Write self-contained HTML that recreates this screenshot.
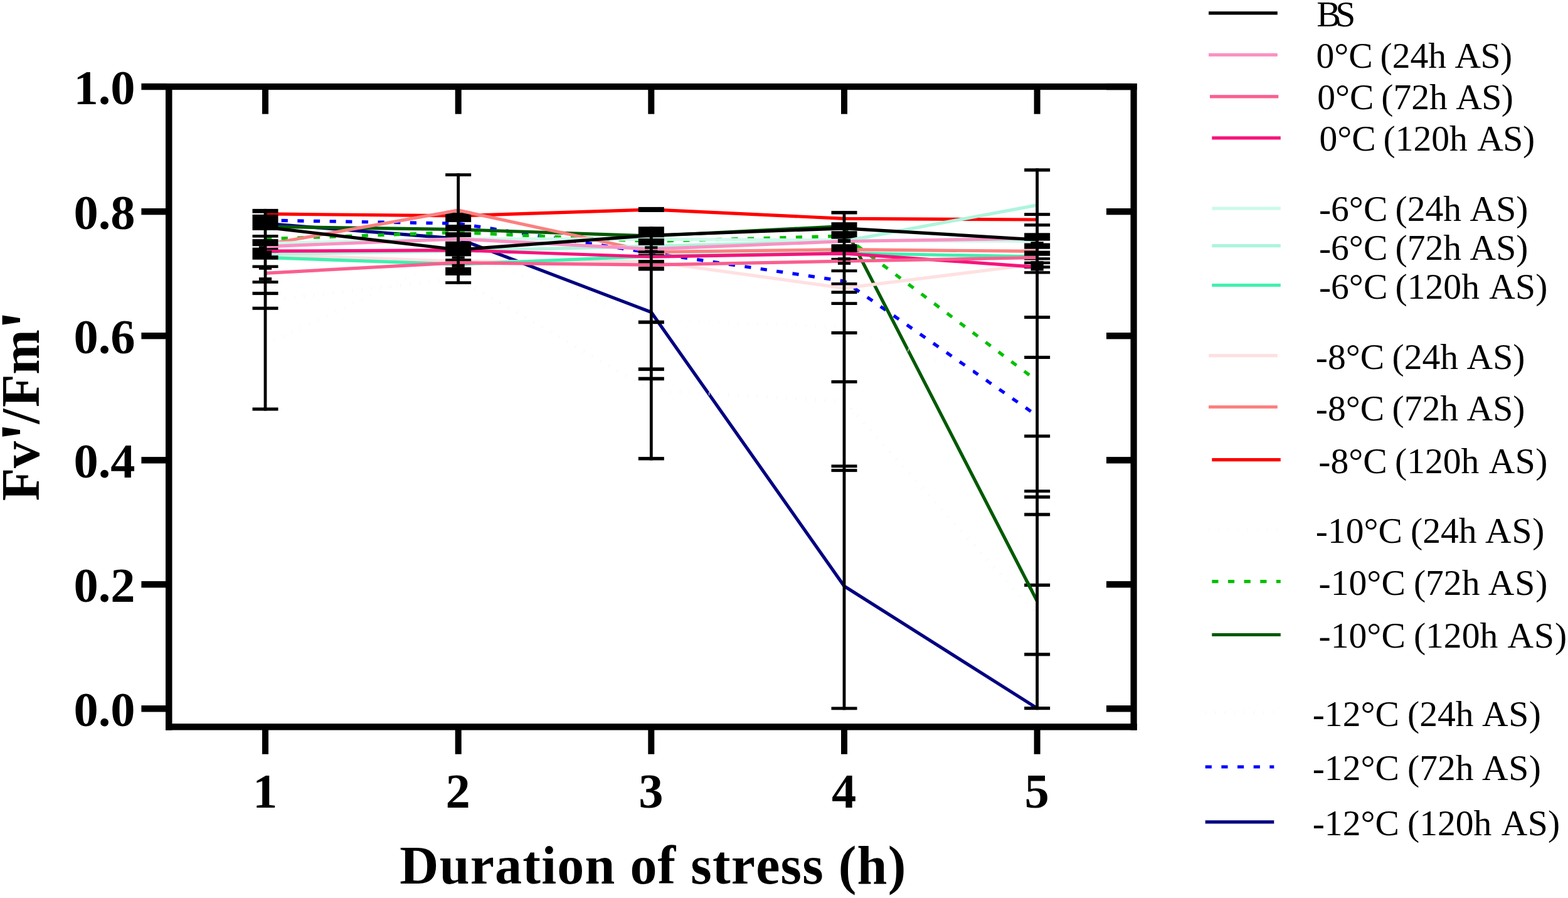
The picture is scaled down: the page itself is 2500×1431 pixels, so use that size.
<!DOCTYPE html>
<html lang="en"><head><meta charset="utf-8"><title>Fv'/Fm' vs duration of stress</title>
<style>html,body{margin:0;padding:0;background:#fff}body{width:2500px;height:1431px;overflow:hidden}svg{display:block}text{font-family:"Liberation Serif","Times New Roman",serif;fill:#000;font-kerning:none}.b{font-weight:bold}.tk{font-size:78.5px;font-weight:bold}.lg{font-size:57.6px}</style></head><body>
<svg width="2500" height="1431" viewBox="0 0 2500 1431">
<rect width="2500" height="1431" fill="#fff"/>
<defs>
<clipPath id="c0_0"><rect x="423.00" y="392.2" width="22.00" height="4.40"/></clipPath>
<clipPath id="c0_1"><rect x="423.00" y="402.5" width="22.00" height="5.10"/></clipPath>
<clipPath id="c0_2"><rect x="423.00" y="397.8" width="22.00" height="5.20"/></clipPath>
<clipPath id="c1_0"><rect x="708.66" y="330" width="44.00" height="13.00"/></clipPath>
<clipPath id="c1_1"><rect x="708.66" y="415" width="44.00" height="7.50"/></clipPath>
<clipPath id="c3_0"><rect x="1348.38" y="374" width="19.60" height="7.60"/></clipPath>
<clipPath id="c3_1"><rect x="1323.98" y="401" width="44.00" height="6.00"/></clipPath>
<clipPath id="c4_0"><rect x="1631.64" y="407.7" width="22.00" height="5.50"/></clipPath>
<clipPath id="c4_1"><rect x="1631.64" y="421" width="12.00" height="7.50"/></clipPath>
<clipPath id="c4_2"><rect x="1631.64" y="925" width="22.00" height="15.00"/></clipPath>
</defs>
<g id="lines">
<polyline points="423.00,356.2 730.66,380.4 1038.32,497.5 1345.98,934.0 1653.64,1128.6" fill="none" stroke="#000080" stroke-width="5.2" stroke-linejoin="miter"/>
<polyline points="423.00,351.0 730.66,356.2 1038.32,403.0 1345.98,448.0 1653.64,662.5" fill="none" stroke="#0000FF" stroke-width="5.2" stroke-linejoin="miter" stroke-dasharray="10.2 15.45"/>
<polyline points="423.00,479.2 730.66,444.0 1038.32,622.1 1345.98,639.6 1653.64,980.0" fill="none" stroke="#F5F5FF" stroke-width="5.2" stroke-linejoin="miter" stroke-dasharray="1.1 14.35"/>
<polyline points="423.00,361.1 730.66,365.7 1038.32,376.0 1345.98,360.5 1653.64,958.0" fill="none" stroke="#005A00" stroke-width="5.2" stroke-linejoin="miter"/>
<polyline points="423.00,380.8 730.66,370.3 1038.32,384.5 1345.98,376.0 1653.64,607.0" fill="none" stroke="#00C000" stroke-width="5.2" stroke-linejoin="miter" stroke-dasharray="10.2 15.45"/>
<polyline points="423.00,549.6 730.66,404.5 1038.32,510.1 1345.98,520.6 1653.64,632.2" fill="none" stroke="#F0FFF0" stroke-width="5.2" stroke-linejoin="miter" stroke-dasharray="1.1 14.35"/>
<polyline points="423.00,340.9 730.66,343.9 1038.32,333.9 1345.98,348.3 1653.64,350.0" fill="none" stroke="#FF0000" stroke-width="5.2" stroke-linejoin="miter"/>
<polyline points="423.00,389.8 730.66,335.1 1038.32,401.6 1345.98,397.7 1653.64,400.4" fill="none" stroke="#FC8080" stroke-width="5.2" stroke-linejoin="miter"/>
<polyline points="423.00,405.5 730.66,416.5 1038.32,416.6 1345.98,459.1 1653.64,420.6" fill="none" stroke="#FFE0E0" stroke-width="5.2" stroke-linejoin="miter"/>
<polyline points="423.00,410.3 730.66,421.1 1038.32,408.3 1345.98,403.3 1653.64,409.2" fill="none" stroke="#40F0B0" stroke-width="5.2" stroke-linejoin="miter"/>
<polyline points="423.00,405.0 730.66,400.0 1038.32,392.3 1345.98,384.3 1653.64,326.9" fill="none" stroke="#ADF5DD" stroke-width="5.2" stroke-linejoin="miter"/>
<polyline points="423.00,388.0 730.66,380.8 1038.32,381.2 1345.98,383.2 1653.64,384.2" fill="none" stroke="#CCFAEB" stroke-width="5.2" stroke-linejoin="miter"/>
<polyline points="423.00,400.2 730.66,398.7 1038.32,409.2 1345.98,403.8 1653.64,425.7" fill="none" stroke="#F7137C" stroke-width="5.2" stroke-linejoin="miter"/>
<polyline points="423.00,435.3 730.66,418.7 1038.32,422.2 1345.98,416.2 1653.64,410.5" fill="none" stroke="#F95F8F" stroke-width="5.2" stroke-linejoin="miter"/>
<polyline points="423.00,392.8 730.66,380.8 1038.32,396.9 1345.98,384.5 1653.64,380.0" fill="none" stroke="#FA91C3" stroke-width="5.2" stroke-linejoin="miter"/>
<polyline points="423.00,362.1 730.66,398.0 1038.32,375.0 1345.98,363.8 1653.64,382.0" fill="none" stroke="#000000" stroke-width="5.2" stroke-linejoin="miter"/>
</g>
<g id="errorbars" fill="#000">
<rect x="402.50" y="332.9" width="41.0" height="6.8"/>
<rect x="402.50" y="341.9" width="41.0" height="25.0"/>
<rect x="402.50" y="374.0" width="41.0" height="4.6"/>
<rect x="402.50" y="381.1" width="41.0" height="11.1"/>
<rect x="402.50" y="394.6" width="41.0" height="19.1"/>
<rect x="402.50" y="422.5" width="41.0" height="4.6"/>
<rect x="402.50" y="447.2" width="41.0" height="4.6"/>
<rect x="402.50" y="464.9" width="41.0" height="5.2"/>
<rect x="402.50" y="488.7" width="41.0" height="5.1"/>
<rect x="402.50" y="649.4" width="41.0" height="5.1"/>
<rect x="412.90" y="426.2" width="20.2" height="3.6"/>
<rect x="412.90" y="442.1" width="20.2" height="5.1"/>
<rect x="412.90" y="392.2" width="10.10" height="15.8"/>
<rect x="710.16" y="276.2" width="41.0" height="4.8"/>
<rect x="710.16" y="339.0" width="41.0" height="14.9"/>
<rect x="710.16" y="358.1" width="41.0" height="10.3"/>
<rect x="710.16" y="370.1" width="41.0" height="7.8"/>
<rect x="710.16" y="384.7" width="41.0" height="23.6"/>
<rect x="710.16" y="412.2" width="41.0" height="4.2"/>
<rect x="710.16" y="425.9" width="41.0" height="13.0"/>
<rect x="710.16" y="448.2" width="41.0" height="4.6"/>
<rect x="720.56" y="408.3" width="20.2" height="3.9"/>
<rect x="1017.82" y="329.9" width="41.0" height="8.1"/>
<rect x="1017.82" y="361.2" width="41.0" height="17.1"/>
<rect x="1017.82" y="380.0" width="41.0" height="10.8"/>
<rect x="1017.82" y="399.4" width="41.0" height="4.2"/>
<rect x="1017.82" y="404.6" width="41.0" height="1.9"/>
<rect x="1017.82" y="414.1" width="41.0" height="5.4"/>
<rect x="1017.82" y="424.9" width="41.0" height="6.6"/>
<rect x="1017.82" y="510.6" width="41.0" height="5.6"/>
<rect x="1017.82" y="585.5" width="41.0" height="5.6"/>
<rect x="1017.82" y="600.7" width="41.0" height="5.6"/>
<rect x="1017.82" y="728.1" width="41.0" height="5.4"/>
<rect x="1028.22" y="392.3" width="20.2" height="4.4"/>
<rect x="1028.22" y="398.5" width="20.2" height="1.5"/>
<rect x="1325.48" y="336.1" width="41.0" height="5.4"/>
<rect x="1325.48" y="354.2" width="41.0" height="12.3"/>
<rect x="1325.48" y="368.2" width="41.0" height="12.4"/>
<rect x="1325.48" y="389.2" width="41.0" height="12.7"/>
<rect x="1325.48" y="410.9" width="41.0" height="3.0"/>
<rect x="1325.48" y="429.3" width="41.0" height="4.6"/>
<rect x="1325.48" y="450.1" width="41.0" height="4.4"/>
<rect x="1325.48" y="463.3" width="41.0" height="4.9"/>
<rect x="1325.48" y="481.2" width="41.0" height="4.8"/>
<rect x="1325.48" y="527.9" width="41.0" height="5.0"/>
<rect x="1325.48" y="605.9" width="41.0" height="5.0"/>
<rect x="1325.48" y="740.4" width="41.0" height="4.9"/>
<rect x="1325.48" y="747.2" width="41.0" height="4.9"/>
<rect x="1325.48" y="1126.4" width="41.0" height="4.9"/>
<rect x="1335.88" y="410.2" width="20.2" height="4.6"/>
<rect x="1335.88" y="417.3" width="20.2" height="4.6"/>
<rect x="1633.14" y="268.3" width="41.0" height="5.2"/>
<rect x="1633.14" y="339.2" width="41.0" height="4.9"/>
<rect x="1633.14" y="356.2" width="41.0" height="4.8"/>
<rect x="1633.14" y="371.3" width="41.0" height="12.3"/>
<rect x="1633.14" y="387.5" width="41.0" height="9.2"/>
<rect x="1633.14" y="399.6" width="41.0" height="8.1"/>
<rect x="1633.14" y="410.1" width="41.0" height="4.4"/>
<rect x="1633.14" y="416.6" width="41.0" height="4.5"/>
<rect x="1633.14" y="423.2" width="41.0" height="4.7"/>
<rect x="1633.14" y="432.1" width="41.0" height="4.4"/>
<rect x="1633.14" y="503.0" width="41.0" height="5.1"/>
<rect x="1633.14" y="566.9" width="41.0" height="5.1"/>
<rect x="1633.14" y="692.5" width="41.0" height="5.0"/>
<rect x="1633.14" y="780.3" width="41.0" height="4.7"/>
<rect x="1633.14" y="789.4" width="41.0" height="5.2"/>
<rect x="1633.14" y="817.3" width="41.0" height="5.2"/>
<rect x="1633.14" y="929.8" width="41.0" height="5.2"/>
<rect x="1633.14" y="1040.2" width="41.0" height="5.2"/>
<rect x="1633.14" y="1126.0" width="41.0" height="5.2"/>
<rect x="1643.54" y="385.2" width="20.2" height="2.8"/>
<rect x="1643.54" y="416.1" width="20.2" height="8.6"/>
<rect x="1643.54" y="426.8" width="20.2" height="4.7"/>
</g>
<g id="overlay">
<polyline points="423.00,392.8 730.66,380.8 1038.32,396.9 1345.98,384.5 1653.64,380.0" fill="none" stroke="#FA91C3" stroke-width="5.2" stroke-linejoin="miter" clip-path="url(#c0_0)"/>
<polyline points="423.00,405.0 730.66,400.0 1038.32,392.3 1345.98,384.3 1653.64,326.9" fill="none" stroke="#ADF5DD" stroke-width="5.2" stroke-linejoin="miter" clip-path="url(#c0_1)"/>
<polyline points="423.00,400.2 730.66,398.7 1038.32,409.2 1345.98,403.8 1653.64,425.7" fill="none" stroke="#F7137C" stroke-width="5.2" stroke-linejoin="miter" clip-path="url(#c0_2)"/>
<rect x="423.00" y="399.3" width="10.10" height="8.7" fill="#000"/>
<rect x="420.60" y="332.9" width="4.8" height="321.6" fill="#000"/>
<polyline points="423.00,389.8 730.66,335.1 1038.32,401.6 1345.98,397.7 1653.64,400.4" fill="none" stroke="#FC8080" stroke-width="5.2" stroke-linejoin="miter" clip-path="url(#c1_0)"/>
<polyline points="423.00,435.3 730.66,418.7 1038.32,422.2 1345.98,416.2 1653.64,410.5" fill="none" stroke="#F95F8F" stroke-width="5.2" stroke-linejoin="miter" clip-path="url(#c1_1)"/>
<rect x="720.56" y="420.8" width="20.20" height="5.1" fill="#000"/>
<rect x="728.26" y="276.2" width="4.8" height="176.6" fill="#000"/>
<rect x="1035.92" y="361.2" width="4.8" height="372.3" fill="#000"/>
<polyline points="423.00,405.0 730.66,400.0 1038.32,392.3 1345.98,384.3 1653.64,326.9" fill="none" stroke="#ADF5DD" stroke-width="5.2" stroke-linejoin="miter" clip-path="url(#c3_0)"/>
<polyline points="423.00,400.2 730.66,398.7 1038.32,409.2 1345.98,403.8 1653.64,425.7" fill="none" stroke="#F7137C" stroke-width="5.2" stroke-linejoin="miter" clip-path="url(#c3_1)"/>
<rect x="1335.88" y="380.9" width="20.20" height="6.1" fill="#000"/>
<rect x="1343.58" y="336.1" width="4.8" height="795.2" fill="#000"/>
<polyline points="423.00,435.3 730.66,418.7 1038.32,422.2 1345.98,416.2 1653.64,410.5" fill="none" stroke="#F95F8F" stroke-width="5.2" stroke-linejoin="miter" clip-path="url(#c4_0)"/>
<polyline points="423.00,400.2 730.66,398.7 1038.32,409.2 1345.98,403.8 1653.64,425.7" fill="none" stroke="#F7137C" stroke-width="5.2" stroke-linejoin="miter" clip-path="url(#c4_1)"/>
<polyline points="423.00,361.1 730.66,365.7 1038.32,376.0 1345.98,360.5 1653.64,958.0" fill="none" stroke="#005A00" stroke-width="5.2" stroke-linejoin="miter" clip-path="url(#c4_2)"/>
<rect x="1651.24" y="268.3" width="4.8" height="862.9" fill="#000"/>
</g>
<g id="axes" fill="#000">
<rect x="264.0" y="133.0" width="1548.7" height="10.2"/>
<rect x="264.0" y="1153.1" width="1548.7" height="10.4"/>
<rect x="264.0" y="133.0" width="10.5" height="1030.5"/>
<rect x="1802.5" y="133.0" width="10.2" height="1030.5"/>
<rect x="225.4" y="132.90" width="40" height="10.4"/>
<rect x="1764" y="132.90" width="40" height="10.4"/>
<rect x="225.4" y="331.95" width="40" height="10.4"/>
<rect x="1764" y="331.95" width="40" height="10.4"/>
<rect x="225.4" y="530.00" width="40" height="10.4"/>
<rect x="1764" y="530.00" width="40" height="10.4"/>
<rect x="225.4" y="728.10" width="40" height="10.4"/>
<rect x="1764" y="728.10" width="40" height="10.4"/>
<rect x="225.4" y="926.10" width="40" height="10.4"/>
<rect x="1764" y="926.10" width="40" height="10.4"/>
<rect x="225.4" y="1124.10" width="40" height="10.4"/>
<rect x="1764" y="1124.10" width="40" height="10.4"/>
<rect x="418.0" y="1158" width="10" height="43.8"/>
<rect x="418.0" y="138" width="10" height="43.7"/>
<rect x="725.7" y="1158" width="10" height="43.8"/>
<rect x="725.7" y="138" width="10" height="43.7"/>
<rect x="1033.3" y="1158" width="10" height="43.8"/>
<rect x="1033.3" y="138" width="10" height="43.7"/>
<rect x="1341.0" y="1158" width="10" height="43.8"/>
<rect x="1341.0" y="138" width="10" height="43.7"/>
<rect x="1648.6" y="1158" width="10" height="43.8"/>
<rect x="1648.6" y="138" width="10" height="43.7"/>
</g>
<g id="ticklabels">
<text class="tk" x="215.6" y="166.0" text-anchor="end">1.0</text>
<text class="tk" x="215.6" y="365.0" text-anchor="end">0.8</text>
<text class="tk" x="215.6" y="563.1" text-anchor="end">0.6</text>
<text class="tk" x="215.6" y="761.2" text-anchor="end">0.4</text>
<text class="tk" x="215.6" y="959.2" text-anchor="end">0.2</text>
<text class="tk" x="215.6" y="1157.2" text-anchor="end">0.0</text>
<text class="tk" x="422.5" y="1286.7" text-anchor="middle">1</text>
<text class="tk" x="730.2" y="1286.7" text-anchor="middle">2</text>
<text class="tk" x="1037.8" y="1286.7" text-anchor="middle">3</text>
<text class="tk" x="1345.5" y="1286.7" text-anchor="middle">4</text>
<text class="tk" x="1653.1" y="1286.7" text-anchor="middle">5</text>
</g>
<text class="b" x="637.3" y="1408" font-size="86" textLength="807" lengthAdjust="spacing">Duration of stress (h)</text>
<text class="b" transform="translate(61.9,800) rotate(-90)" font-size="86"><tspan x="1.8 54.1" y="0">Fv</tspan><tspan x="94.9" y="21" font-size="120">'</tspan><tspan x="124.5 151 203.35" y="0">/Fm</tspan><tspan x="273.3" y="21" font-size="120">'</tspan></text>
<g id="legend">
<line x1="1927.1" y1="20.8" x2="2036.8" y2="20.8" stroke="#000000" stroke-width="5.2"/>
<text class="lg" x="2099.2 2129.2" y="41.7">BS</text>
<line x1="1927.1" y1="87.3" x2="2036.8" y2="87.3" stroke="#FA91C3" stroke-width="5.2"/>
<text class="lg" y="107.9"><tspan x="2098.4">0°C </tspan><tspan x="2200.5">(24h </tspan><tspan x="2319.4" letter-spacing="-0.50">AS)</tspan></text>
<line x1="1929" y1="153.8" x2="2038.3" y2="153.8" stroke="#F95F8F" stroke-width="5.2"/>
<text class="lg" y="174.4"><tspan x="2100.2">0°C </tspan><tspan x="2202.3">(72h </tspan><tspan x="2321.2" letter-spacing="-0.50">AS)</tspan></text>
<line x1="1932.3" y1="219.8" x2="2041.8" y2="219.8" stroke="#F7137C" stroke-width="5.2"/>
<text class="lg" y="240.2"><tspan x="2103.4">0°C </tspan><tspan x="2205.5">(120h </tspan><tspan x="2355.2" letter-spacing="-0.45">AS)</tspan></text>
<line x1="1932.3" y1="332.2" x2="2041.8" y2="332.2" stroke="#CCFAEB" stroke-width="5.2"/>
<text class="lg" y="351.8"><tspan x="2102.9">-6°C </tspan><tspan x="2224.6">(24h </tspan><tspan x="2343.5" letter-spacing="0.05">AS)</tspan></text>
<line x1="1932.3" y1="391.7" x2="2041.8" y2="391.7" stroke="#ADF5DD" stroke-width="5.2"/>
<text class="lg" y="413.8"><tspan x="2102.9">-6°C </tspan><tspan x="2224.6">(72h </tspan><tspan x="2343.5" letter-spacing="0.05">AS)</tspan></text>
<line x1="1932.3" y1="454.5" x2="2041.8" y2="454.5" stroke="#40F0B0" stroke-width="5.2"/>
<text class="lg" y="475.8"><tspan x="2102.9">-6°C </tspan><tspan x="2224.6">(120h </tspan><tspan x="2374.3" letter-spacing="0.15">AS)</tspan></text>
<line x1="1927.1" y1="566.6" x2="2036.8" y2="566.6" stroke="#FFE0E0" stroke-width="5.2"/>
<text class="lg" y="588.2"><tspan x="2097.8">-8°C </tspan><tspan x="2219.5">(24h </tspan><tspan x="2338.4" letter-spacing="0.15">AS)</tspan></text>
<line x1="1927.1" y1="648.5" x2="2036.8" y2="648.5" stroke="#FC8080" stroke-width="5.2"/>
<text class="lg" y="669.6"><tspan x="2097.8">-8°C </tspan><tspan x="2219.5">(72h </tspan><tspan x="2338.4" letter-spacing="0.15">AS)</tspan></text>
<line x1="1932.3" y1="732.6" x2="2041.8" y2="732.6" stroke="#FF0000" stroke-width="5.2"/>
<text class="lg" y="753.7"><tspan x="2102.3">-8°C </tspan><tspan x="2224.0">(120h </tspan><tspan x="2373.7" letter-spacing="0.45">AS)</tspan></text>
<line x1="1927.1" y1="844.7" x2="2036.8" y2="844.7" stroke="#F0FFF0" stroke-width="5.2" stroke-dasharray="1.1 14.35"/>
<text class="lg" y="865.1"><tspan x="2097.8">-10°C </tspan><tspan x="2249.1">(24h </tspan><tspan x="2368.0" letter-spacing="0.85">AS)</tspan></text>
<line x1="1932.3" y1="926.6" x2="2041.8" y2="926.6" stroke="#00C000" stroke-width="5.2" stroke-dasharray="10.2 15.45"/>
<text class="lg" y="947.7"><tspan x="2102.6">-10°C </tspan><tspan x="2253.9">(72h </tspan><tspan x="2372.8" letter-spacing="0.90">AS)</tspan></text>
<line x1="1932.3" y1="1011.5" x2="2041.8" y2="1011.5" stroke="#005A00" stroke-width="5.2"/>
<text class="lg" y="1032.0"><tspan x="2102.6">-10°C </tspan><tspan x="2253.9">(120h </tspan><tspan x="2403.6" letter-spacing="0.90">AS)</tspan></text>
<line x1="1921.7" y1="1135.7" x2="2031.3" y2="1135.7" stroke="#F5F5FF" stroke-width="5.2" stroke-dasharray="1.1 14.35"/>
<text class="lg" y="1156.8"><tspan x="2092.7">-12°C </tspan><tspan x="2244.0">(24h </tspan><tspan x="2362.9" letter-spacing="0.65">AS)</tspan></text>
<line x1="1921.7" y1="1222" x2="2031.3" y2="1222" stroke="#0000FF" stroke-width="5.2" stroke-dasharray="10.2 15.45"/>
<text class="lg" y="1243.1"><tspan x="2092.7">-12°C </tspan><tspan x="2244.0">(72h </tspan><tspan x="2362.9" letter-spacing="0.65">AS)</tspan></text>
<line x1="1921.7" y1="1309.9" x2="2031.3" y2="1309.9" stroke="#000080" stroke-width="5.2"/>
<text class="lg" y="1330.5"><tspan x="2092.7">-12°C </tspan><tspan x="2244.0">(120h </tspan><tspan x="2393.7" letter-spacing="0.40">AS)</tspan></text>
</g>
</svg></body></html>
